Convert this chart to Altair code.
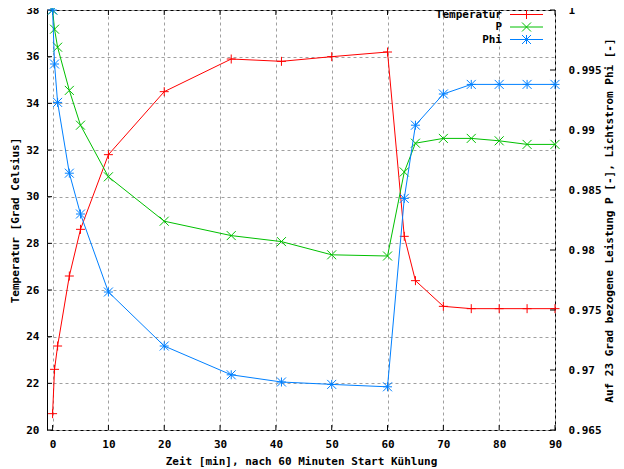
import altair as alt
import pandas as pd

# ---- data ----
zeit = [0, 0.35, 0.9, 3, 5, 10, 20, 32, 41, 50, 60, 63, 65, 70, 75, 80, 85, 90]
temperatur = [20.7, 22.6, 23.6, 26.6, 28.6, 31.8, 34.5, 35.9, 35.8, 36.0, 36.2,
              28.3, 26.4, 25.3, 25.2, 25.2, 25.2, 25.2]
leistung_p = [1.0, 0.9984, 0.9969, 0.9933, 0.9904, 0.9861, 0.9824, 0.9812, 0.9807,
              0.9796, 0.9795, 0.9865, 0.9889, 0.9893, 0.9893, 0.9891, 0.9888, 0.9888]
lichtstrom_phi = [1.0, 0.9955, 0.9923, 0.9864, 0.9830, 0.9765, 0.9720, 0.9696, 0.9690,
                  0.9688, 0.9686, 0.9843, 0.9904, 0.9930, 0.9938, 0.9938, 0.9938, 0.9938]

x_ticks = [0, 10, 20, 30, 40, 50, 60, 70, 80, 90]
y_ticks = [20, 22, 24, 26, 28, 30, 32, 34, 36, 38]
y2_ticks = [0.965, 0.97, 0.975, 0.98, 0.985, 0.99, 0.995, 1.0]
series_names = ["Temperatur", "P", "Phi"]
series_colors = ["#ff0000", "#00c000", "#0080ff"]

# gnuplot-like point symbols: +, x, *
PLUS = "M-1,0H1M0,-1V1"
CROSS = "M-1,-1L1,1M-1,1L1,-1"
STAR = "M-1,0H1M0,-1V1M-1,-1L1,1M-1,1L1,-1"
shapes = [PLUS, CROSS, STAR]

W, H = 508, 420
FONT = "DejaVu Sans Mono"

xscale = alt.Scale(domain=[-1, 90], nice=False, zero=False)
xaxis = alt.Axis(values=x_ticks, format="d", title="Zeit [min], nach 60 Minuten Start Kühlung",
                 grid=True, gridDash=[3, 3], gridColor="#a0a0a0", gridOpacity=1,
                 ticks=False, domain=False, labelPadding=8, titlePadding=6,
                 labelFlush=False)
yscale = alt.Scale(domain=[20, 38], nice=False, zero=False)
yaxis = alt.Axis(values=y_ticks, format="d", title="Temperatur [Grad Celsius]",
                 grid=True, gridDash=[3, 3], gridColor="#a0a0a0", gridOpacity=1,
                 ticks=False, domain=False, labelPadding=8, titlePadding=5,
                 orient="left", labelFlush=False)
y2scale = alt.Scale(domain=[0.965, 1.0], nice=False, zero=False)
y2axis = alt.Axis(values=y2_ticks, format="~g",
                  title="Auf 23 Grad bezogene Leistung P [-], Lichtstrom Phi [-]",
                  grid=False, ticks=False, domain=False, labelPadding=13, titlePadding=2,
                  orient="right", titleAngle=270, titleBaseline="top",
                  labelFlush=False, labelAlign="left")

X = alt.X("x:Q", scale=xscale, axis=xaxis)

df_t = pd.DataFrame({"x": zeit, "v": temperatur})
df_p = pd.DataFrame({"x": zeit, "v": leistung_p})
df_phi = pd.DataFrame({"x": zeit, "v": lichtstrom_phi})


def series(df, color, shape, Y):
    line = alt.Chart(df).mark_line(color=color, strokeWidth=1).encode(x=X, y=Y)
    pts = alt.Chart(df).mark_point(shape=shape, filled=False, size=81, strokeWidth=1,
                                   color=color, opacity=1).encode(x=X, y=Y)
    return [line, pts]


Yl = alt.Y("v:Q", scale=yscale, axis=yaxis)
Yr = alt.Y("v:Q", scale=y2scale, axis=y2axis)

# inward tick marks (gnuplot style)
df_xt = pd.DataFrame({"x": x_ticks})
bottom_ticks = alt.Chart(df_xt).mark_rule(color="black", strokeWidth=1).encode(
    x=X, y=alt.value(H), y2=alt.value(H - 5))
top_ticks = alt.Chart(df_xt).mark_rule(color="black", strokeWidth=1).encode(
    x=X, y=alt.value(0), y2=alt.value(5))
left_ticks = alt.Chart(pd.DataFrame({"v": y_ticks})).mark_rule(color="black", strokeWidth=1).encode(
    y=Yl, x=alt.value(0), x2=alt.value(5))
right_ticks = alt.Chart(pd.DataFrame({"v": y2_ticks})).mark_rule(color="black", strokeWidth=1).encode(
    y=Yr, x=alt.value(W - 5), x2=alt.value(W))

left_group = alt.layer(*series(df_t, series_colors[0], shapes[0], Yl), left_ticks,
                       bottom_ticks, top_ticks)
right_group = alt.layer(*series(df_p, series_colors[1], shapes[1], Yr),
                        *series(df_phi, series_colors[2], shapes[2], Yr), right_ticks)

# legend (top right, gnuplot style: text, then line sample with symbol)
legend_layers = []
for i, (name, col, shp) in enumerate(zip(series_names, series_colors, shapes)):
    yy = 4.5 + 12.5 * i
    d = pd.DataFrame({"name": [name]})
    legend_layers.append(alt.Chart(d).mark_text(align="right", baseline="middle", font=FONT,
                                                fontSize=11, fontWeight="bold", color="black").encode(
        text="name:N", x=alt.value(455), y=alt.value(yy)))
    legend_layers.append(alt.Chart(d).mark_rule(color=col, strokeWidth=1).encode(
        x=alt.value(463), x2=alt.value(496), y=alt.value(yy)))
    legend_layers.append(alt.Chart(d).mark_point(shape=shp, filled=False, size=81, strokeWidth=1,
                                                 color=col, opacity=1).encode(
        x=alt.value(479.5), y=alt.value(yy)))

chart = alt.layer(left_group, right_group, *legend_layers).resolve_scale(
    y="independent"
).properties(
    width=W, height=H,
    autosize=alt.AutoSizeParams(type="none"),
    padding={"left": 39, "top": 2, "right": 61, "bottom": 39},
    background="white",
).configure_view(
    stroke="black", strokeWidth=1
).configure_axis(
    labelFont=FONT, titleFont=FONT, labelFontSize=11, titleFontSize=11,
    labelFontWeight="bold", titleFontWeight="bold", labelColor="black", titleColor="black"
)

chart.save("out.html", embed_options={"renderer": "svg", "actions": False})
